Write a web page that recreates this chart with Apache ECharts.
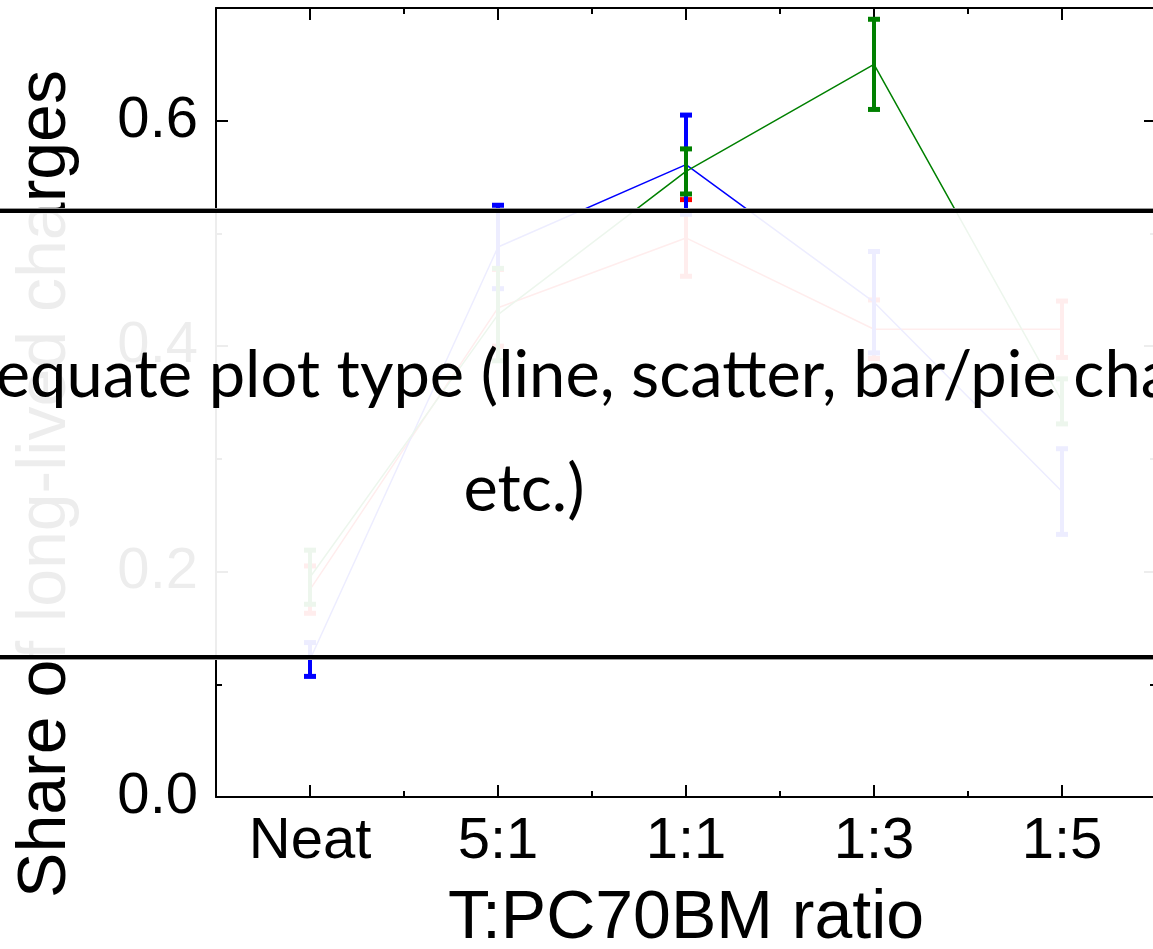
<!DOCTYPE html>
<html>
<head>
<meta charset="utf-8">
<script src="https://cdn.jsdelivr.net/npm/echarts@6/dist/echarts.min.js"></script>
<style>
html,body{margin:0;padding:0;background:#fff;overflow:hidden;width:1153px;height:949px;}
#c{width:1160px;height:949px;}
</style>
</head>
<body>
<div id="c"></div>
<script>
// ---- data ----
const categories = ['Neat', '5:1', '1:1', '1:3', '1:5'];
const blueMean  = [0.122, 0.488, 0.561, 0.439, 0.271];
const blueErr   = [0.015, 0.037, 0.044, 0.045, 0.038];
const greenMean = [0.195, 0.428, 0.555, 0.650, 0.351];
const greenErr  = [0.024, 0.041, 0.020, 0.040, 0.020];
const redMean   = [0.184, 0.434, 0.496, 0.415, 0.415];
const redErr    = [0.021, 0.034, 0.034, 0.026, 0.025];
const yMajorTicks = [0, 0.2, 0.4, 0.6];
const yMinorTicks = [0.1, 0.3, 0.5];
const xMajorTicks = [0, 1, 2, 3, 4];
const xMinorTicks = [0.5, 1.5, 2.5, 3.5];
const xAxisTitle = 'T:PC70BM ratio';
const yAxisTitle = 'Share of long-lived charges';
const overlayLine1 = 'Adequate plot type (line, scatter, bar/pie charts,';
const overlayLine2 = 'etc.)';

const chart = echarts.init(document.getElementById('c'), null, {renderer: 'canvas'});
const FONT = 'Liberation Sans, Arial, sans-serif';
const OFONT = '65px Lato, "Open Sans", sans-serif';
const gridRect = {left: 216, top: 8, width: 940, height: 789, outerBoundsMode: 'none', containLabel: false};

function xAxisDef(gridIndex, position, ticks, len, showLabel) {
  return {
    type: 'value', gridIndex, position, min: -0.5, max: 4.5,
    axisLine: {show: gridIndex === 0, onZero: false, lineStyle: {color: '#000', width: 2}},
    axisTick: {show: true, inside: true, length: len, customValues: ticks, lineStyle: {color: '#000', width: 2}},
    axisLabel: showLabel ? {show: true, customValues: xMajorTicks, margin: 16,
      formatter: v => categories[Math.round(v)], color: '#000', fontSize: 58, fontFamily: FONT} : {show: false},
    splitLine: {show: false},
    name: showLabel ? xAxisTitle : '', nameLocation: 'middle', nameGap: 88, nameMoveOverlap: false,
    nameTextStyle: {color: '#000', fontSize: 68, fontFamily: FONT, verticalAlign: 'top'}
  };
}
function yAxisDef(gridIndex, position, ticks, len, showLabel) {
  return {
    type: 'value', gridIndex, position, min: 0, max: 0.7,
    axisLine: {show: gridIndex === 0, onZero: false, lineStyle: {color: '#000', width: 2}},
    axisTick: {show: true, inside: true, length: len, customValues: ticks, lineStyle: {color: '#000', width: 2}},
    axisLabel: showLabel ? {show: true, customValues: yMajorTicks, margin: 18,
      formatter: v => v.toFixed(1), color: '#000', fontSize: 58, fontFamily: FONT} : {show: false},
    splitLine: {show: false}
  };
}

function errSeries(mean, err, color, z) {
  return {
    type: 'custom', xAxisIndex: 0, yAxisIndex: 0, z: z,
    data: mean.map((m, i) => [i, m, err[i]]),
    renderItem: function (params, api) {
      const x = api.value(0), m = api.value(1), e = api.value(2);
      const t = api.coord([x, m + e]), b = api.coord([x, m - e]);
      const hw = 6;
      return {type: 'group', children: [
        {type: 'line', shape: {x1: t[0], y1: t[1], x2: b[0], y2: b[1]}, style: {stroke: color, lineWidth: 4}},
        {type: 'line', shape: {x1: t[0] - hw, y1: t[1], x2: t[0] + hw, y2: t[1]}, style: {stroke: color, lineWidth: 5}},
        {type: 'line', shape: {x1: b[0] - hw, y1: b[1], x2: b[0] + hw, y2: b[1]}, style: {stroke: color, lineWidth: 5}}
      ]};
    }
  };
}
function lineSeries(mean, color, z) {
  return {
    type: 'line', xAxisIndex: 0, yAxisIndex: 0, z: z,
    data: mean.map((m, i) => [i, m]),
    symbol: 'none', lineStyle: {color: color, width: 1.5}, itemStyle: {color: color},
    animation: false
  };
}

const option = {
  animation: false,
  backgroundColor: '#fff',
  grid: [Object.assign({}, gridRect), Object.assign({}, gridRect)],
  xAxis: [
    xAxisDef(0, 'bottom', xMajorTicks, 12, true),
    xAxisDef(0, 'top', xMajorTicks, 12, false),
    xAxisDef(1, 'bottom', xMinorTicks, 6, false),
    xAxisDef(1, 'top', xMinorTicks, 6, false)
  ],
  yAxis: [
    yAxisDef(0, 'left', yMajorTicks, 12, true),
    yAxisDef(0, 'right', yMajorTicks, 12, false),
    yAxisDef(1, 'left', yMinorTicks, 6, false),
    yAxisDef(1, 'right', yMinorTicks, 6, false)
  ],
  series: [
    lineSeries(redMean, '#ff0000', 2),
    errSeries(redMean, redErr, '#ff0000', 3),
    lineSeries(blueMean, '#0000ff', 4),
    errSeries(blueMean, blueErr, '#0000ff', 5),
    lineSeries(greenMean, '#008000', 6),
    errSeries(greenMean, greenErr, '#008000', 7)
  ],
  graphic: [
    {type: 'text', z: 50, x: 46, y: 484, rotation: Math.PI / 2,
      style: {text: yAxisTitle, fill: '#000', font: '68px ' + FONT, align: 'center', verticalAlign: 'middle'}},
    {type: 'rect', z: 100, shape: {x: 0, y: 211, width: 1160, height: 446},
      style: {fill: 'rgba(255,255,255,0.93)'}},
    {type: 'rect', z: 101, shape: {x: 0, y: 208, width: 1160, height: 1}, style: {fill: '#999'}},
    {type: 'rect', z: 101, shape: {x: 0, y: 209, width: 1160, height: 4}, style: {fill: '#000'}},
    {type: 'rect', z: 101, shape: {x: 0, y: 655, width: 1160, height: 4}, style: {fill: '#000'}},
    {type: 'rect', z: 101, shape: {x: 0, y: 659, width: 1160, height: 1}, style: {fill: '#999'}},
    {type: 'text', z: 102, x: -84, y: 376,
      style: {text: overlayLine1, fill: '#000', font: OFONT, align: 'left', verticalAlign: 'middle'}},
    {type: 'text', z: 102, x: 524, y: 490,
      style: {text: overlayLine2, fill: '#000', font: OFONT, align: 'center', verticalAlign: 'middle'}}
  ]
};
chart.setOption(option);
</script>
</body>
</html>
